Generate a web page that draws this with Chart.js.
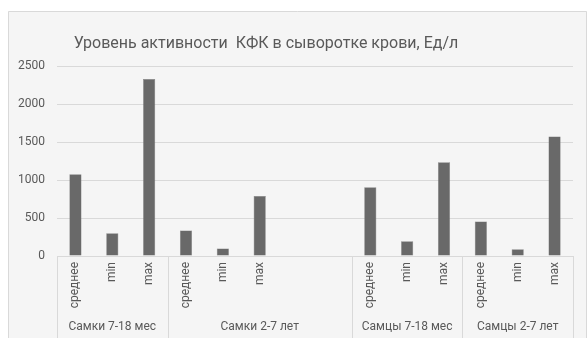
<!DOCTYPE html>
<html>
<head>
<meta charset="utf-8">
<script src="https://cdn.jsdelivr.net/npm/chart.js@4/dist/chart.umd.min.js"></script>
<style>
  html, body { margin: 0; padding: 0; background: #ffffff; }
  #wrap { position: relative; width: 587px; height: 338px; }
</style>
</head>
<body>
<div id="wrap"><canvas id="chart" width="587" height="338"></canvas></div>
<script>
// Statistic names per bar; the "Самки 2-7 лет" block carries two empty slots
const categories = ['среднее', 'min', 'max',
                    'среднее', 'min', 'max', '', '',
                    'среднее', 'min', 'max',
                    'среднее', 'min', 'max'];

// КФК activity, Ед/л
const values = [1075, 300, 2330,
                335, 100, 790, null, null,
                905, 195, 1235,
                453, 88, 1573];

// Animal groups and how many category slots each one spans
const groupNames = ['Самки 7-18 мес', 'Самки 2-7 лет', 'Самцы 7-18 мес', 'Самцы 2-7 лет'];
const groupSizes = [3, 5, 3, 3];

const yTicks = [0, 500, 1000, 1500, 2000, 2500];
const titleText = 'Уровень активности  КФК в сыворотке крови, Ед/л';

// Second-row labels: group name placed at the middle slot of each group
const groupRow = categories.map(() => '');
{
  let start = 0;
  groupSizes.forEach((n, g) => {
    groupRow[start + Math.floor((n - 1) / 2)] = groupNames[g];
    start += n;
  });
}

const FONT = 'Roboto, "Noto Sans", sans-serif';
const TEXT = '#595959';
const LINE = '#d9d9d9';

// Panel background with thin frame, plus the heading
const panelPlugin = {
  id: 'panel',
  beforeDraw(chart) {
    const ctx = chart.ctx;
    ctx.save();
    ctx.fillStyle = '#f5f5f5';
    ctx.fillRect(8, 11, chart.width - 8, chart.height - 11);
    ctx.strokeStyle = LINE;
    ctx.lineWidth = 1;
    ctx.beginPath();
    ctx.moveTo(8.5, chart.height);
    ctx.lineTo(8.5, 11.5);
    ctx.lineTo(chart.width - 0.5, 11.5);
    ctx.lineTo(chart.width - 0.5, chart.height);
    ctx.stroke();

    ctx.fillStyle = TEXT;
    ctx.font = '16px ' + FONT;
    ctx.textAlign = 'center';
    ctx.textBaseline = 'middle';
    ctx.fillText(titleText, 266, 44);
    ctx.restore();
  }
};

// Vertical dividers between groups under the category axis
const groupDividers = {
  id: 'groupDividers',
  afterDraw(chart) {
    const x = chart.scales.x;
    const ctx = chart.ctx;
    const half = (x.getPixelForValue(1) - x.getPixelForValue(0)) / 2;
    const edges = [0];
    let s = 0;
    groupSizes.forEach(n => { s += n; edges.push(s); });
    ctx.save();
    ctx.strokeStyle = LINE;
    ctx.lineWidth = 1;
    edges.forEach(e => {
      const px = Math.round(x.getPixelForValue(e) - half) + 0.5;
      ctx.beginPath();
      ctx.moveTo(px, chart.chartArea.bottom);
      ctx.lineTo(px, chart.height);
      ctx.stroke();
    });
    ctx.restore();
  }
};

new Chart(document.getElementById('chart'), {
  type: 'bar',
  data: {
    labels: categories,
    datasets: [{
      data: values,
      backgroundColor: '#696969',
      borderColor: '#7a7a7a',
      borderWidth: 0.5,
      barPercentage: 0.33,
      categoryPercentage: 1,
      xAxisID: 'x',
      yAxisID: 'y'
    }]
  },
  options: {
    responsive: false,
    animation: false,
    layout: { padding: { left: 0, right: 14, top: 66, bottom: 0 } },
    plugins: {
      legend: { display: false },
      tooltip: { enabled: false },
      title: { display: false }
    },
    scales: {
      x: {
        type: 'category',
        position: 'bottom',
        weight: 0,
        grid: { display: false, drawTicks: false },
        border: { display: true, color: LINE, width: 1 },
        ticks: {
          autoSkip: false,
          minRotation: 90,
          maxRotation: 90,
          padding: 6,
          color: TEXT,
          font: { family: FONT, size: 12 }
        },
        afterFit(scale) { scale.height = 58; }
      },
      x2: {
        type: 'category',
        position: 'bottom',
        weight: 1,
        labels: groupRow,
        grid: { display: false, drawTicks: false },
        border: { display: false },
        ticks: {
          autoSkip: false,
          maxRotation: 0,
          minRotation: 0,
          padding: 6,
          color: TEXT,
          font: { family: FONT, size: 12 }
        },
        afterFit(scale) { scale.height = 24; }
      },
      y: {
        min: 0,
        max: 2500,
        afterBuildTicks(scale) { scale.ticks = yTicks.map(v => ({ value: v })); },
        grid: { color: LINE, drawTicks: false },
        border: { display: false },
        ticks: {
          padding: 12,
          color: TEXT,
          font: { family: FONT, size: 12 },
          callback: v => String(v)
        },
        afterFit(scale) { scale.width = 57; }
      }
    }
  },
  plugins: [panelPlugin, groupDividers]
});
</script>
</body>
</html>
